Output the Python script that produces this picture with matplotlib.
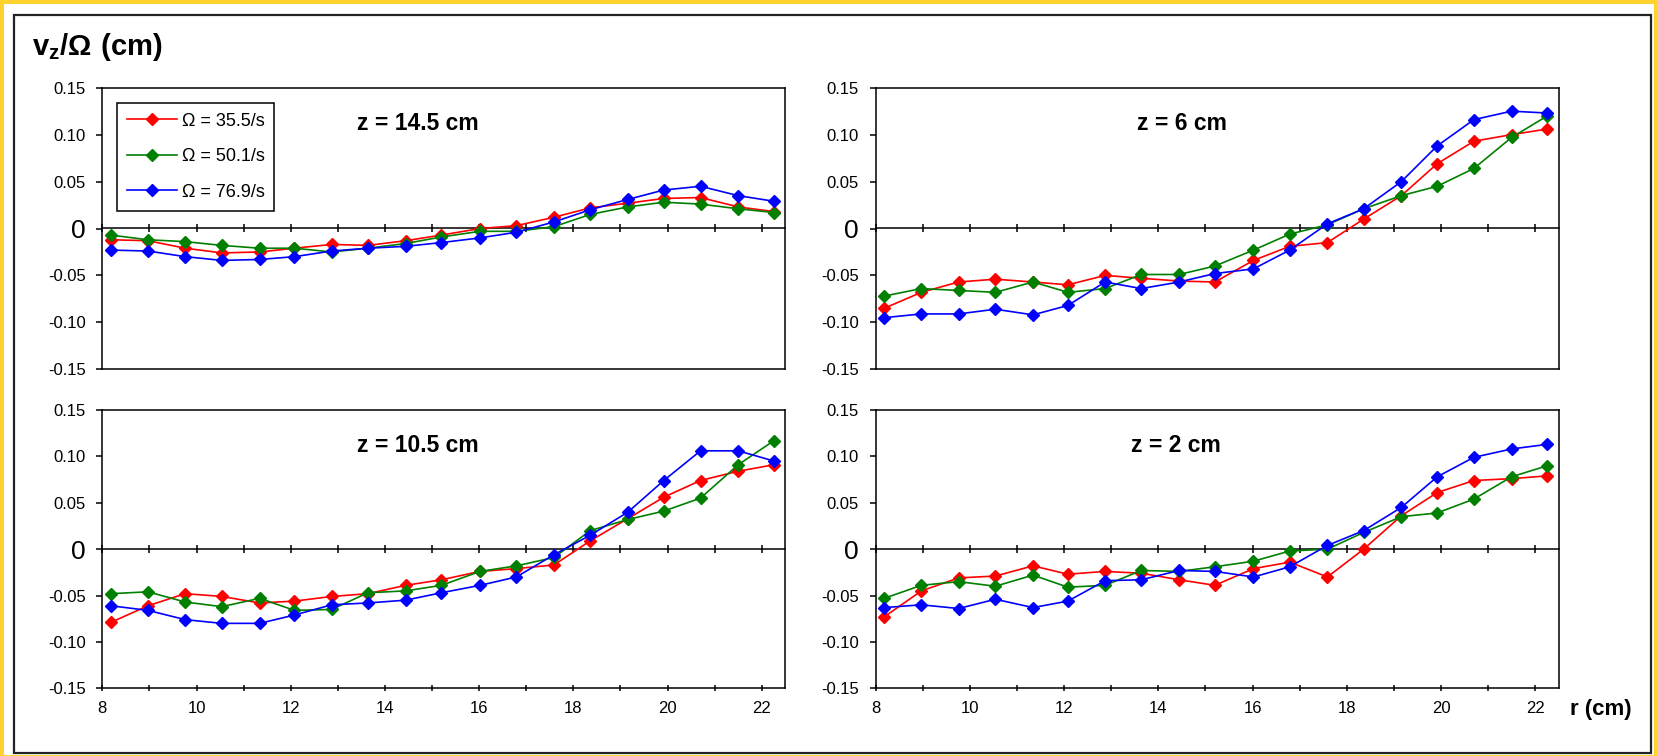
import matplotlib
matplotlib.use("Agg")
import matplotlib.pyplot as plt
from matplotlib.patches import Rectangle

plt.rcParams['font.family'] = ['Liberation Sans', 'DejaVu Sans']
plt.rcParams['mathtext.fontset'] = 'custom'
plt.rcParams['mathtext.rm'] = 'Liberation Sans'
plt.rcParams['mathtext.bf'] = 'Liberation Sans:bold'

# radial positions of the measurements (cm)
r_cm = [8.18, 8.97, 9.76, 10.54, 11.34, 12.08, 12.87, 13.64, 14.44, 15.20,
        16.02, 16.79, 17.59, 18.36, 19.16, 19.92, 20.70, 21.50, 22.26]

series_labels = ['Ω = 35.5/s', 'Ω = 50.1/s', 'Ω = 76.9/s']
series_colors = ['#ff0000', '#008000', '#0000ff']

# z = 14.5 cm
z145_355 = [-0.012, -0.013, -0.021, -0.026, -0.025, -0.021, -0.017, -0.018, -0.013, -0.007,
            0.000, 0.003, 0.012, 0.022, 0.027, 0.032, 0.033, 0.023, 0.018]
z145_501 = [-0.007, -0.012, -0.014, -0.018, -0.021, -0.021, -0.025, -0.021, -0.016, -0.009,
            -0.003, -0.003, 0.002, 0.015, 0.023, 0.028, 0.026, 0.021, 0.017]
z145_769 = [-0.023, -0.024, -0.030, -0.034, -0.033, -0.030, -0.024, -0.021, -0.019, -0.015,
            -0.010, -0.004, 0.007, 0.020, 0.031, 0.041, 0.045, 0.035, 0.029]

# z = 6 cm
z6_355 = [-0.085, -0.068, -0.057, -0.054, -0.057, -0.060, -0.050, -0.053, -0.056, -0.057,
          -0.034, -0.019, -0.015, 0.010, 0.035, 0.069, 0.093, 0.100, 0.106]
z6_501 = [-0.072, -0.064, -0.066, -0.068, -0.057, -0.068, -0.064, -0.049, -0.049, -0.040,
          -0.023, -0.006, 0.004, 0.021, 0.035, 0.045, 0.064, 0.097, 0.120]
z6_769 = [-0.095, -0.091, -0.091, -0.086, -0.092, -0.082, -0.057, -0.064, -0.057, -0.048,
          -0.043, -0.023, 0.005, 0.021, 0.050, 0.088, 0.116, 0.125, 0.123]

# z = 10.5 cm
z105_355 = [-0.079, -0.061, -0.048, -0.051, -0.058, -0.056, -0.051, -0.048, -0.039, -0.033,
            -0.024, -0.021, -0.017, 0.009, 0.033, 0.056, 0.074, 0.084, 0.091]
z105_501 = [-0.048, -0.046, -0.057, -0.062, -0.053, -0.066, -0.065, -0.047, -0.045, -0.039,
            -0.024, -0.018, -0.009, 0.020, 0.032, 0.041, 0.055, 0.091, 0.117]
z105_769 = [-0.061, -0.066, -0.076, -0.080, -0.080, -0.071, -0.060, -0.058, -0.055, -0.047,
            -0.039, -0.030, -0.006, 0.015, 0.040, 0.074, 0.106, 0.106, 0.095]

# z = 2 cm
z2_355 = [-0.073, -0.045, -0.031, -0.029, -0.018, -0.027, -0.024, -0.026, -0.033, -0.039,
          -0.021, -0.014, -0.030, 0.000, 0.036, 0.061, 0.074, 0.076, 0.079]
z2_501 = [-0.053, -0.039, -0.035, -0.040, -0.028, -0.041, -0.039, -0.023, -0.024, -0.019,
          -0.013, -0.002, 0.000, 0.018, 0.035, 0.039, 0.054, 0.078, 0.090]
z2_769 = [-0.063, -0.060, -0.064, -0.054, -0.063, -0.056, -0.034, -0.033, -0.023, -0.024,
          -0.030, -0.019, 0.004, 0.020, 0.045, 0.078, 0.099, 0.108, 0.113]

y_ticks = [0.15, 0.10, 0.05, 0, -0.05, -0.10, -0.15]
y_ticklabels = ['0.15', '0.10', '0.05', '0', '-0.05', '-0.10', '-0.15']
x_major = [8, 10, 12, 14, 16, 18, 20, 22]
x_minor = [9, 11, 13, 15, 17, 19, 21]

W, H = 1658, 756


def fx(px):
    return px / W


def fy(py):
    # py measured from the top of the picture
    return 1 - py / H


fig = plt.figure(figsize=(W / 100, H / 100), dpi=100, facecolor='#ffd22e')
# white card inside the yellow border, then the thin black frame
fig.patches.append(Rectangle((fx(4), fy(755)), fx(1650), (755 - 4) / H, transform=fig.transFigure,
                             facecolor='white', edgecolor='none', zorder=-2))
fig.patches.append(Rectangle((fx(14), fy(753)), fx(1637), (753 - 15) / H, transform=fig.transFigure,
                             facecolor='none', edgecolor='#222222', lw=1.6, zorder=-1))

# panel name, data, text x position, left px, top px, bottom px, bottom row?
panels = [
    ('z = 14.5 cm', [z145_355, z145_501, z145_769], 0.462, 102.3, 87.7, 369.3, False),
    ('z = 6 cm', [z6_355, z6_501, z6_769], 0.448, 875.7, 87.7, 369.3, False),
    ('z = 10.5 cm', [z105_355, z105_501, z105_769], 0.462, 102.3, 410.0, 688.3, True),
    ('z = 2 cm', [z2_355, z2_501, z2_769], 0.44, 875.7, 410.0, 688.3, True),
]

axes = []
for name, data, tx, left, top, bottom, low in panels:
    ax = fig.add_axes([fx(left), fy(bottom), 683 / W, (bottom - top) / H])
    axes.append(ax)
    for vals, lab, col in zip(data, series_labels, series_colors):
        ax.plot(r_cm, vals, color=col, lw=1.2, marker='D', ms=6.3,
                mec=col, mfc=col, label=lab)

    ax.set_xlim(8, 22.5)
    ax.set_ylim(-0.15, 0.15)
    ax.set_yticks(y_ticks)
    ax.set_yticklabels(y_ticklabels)
    ax.tick_params(axis='y', direction='out', length=4.5, width=1.1, labelsize=12, pad=7.5)
    # the zero label is drawn bigger
    ax.yaxis.get_major_ticks()[3].label1.set_fontsize(19)
    for sp in ax.spines.values():
        sp.set_linewidth(1.1)

    ax.set_xticks(x_major)
    ax.set_xticks(x_minor, minor=True)
    if low:
        ax.tick_params(axis='x', which='both', direction='inout', length=5, width=1.1,
                       labelsize=12, pad=6.5)
    else:
        ax.tick_params(axis='x', which='both', bottom=False, labelbottom=False)

    # x axis crossing at zero
    sec = ax.secondary_xaxis(0.5)
    sec.set_xticks(x_major)
    sec.set_xticks(x_minor, minor=True)
    sec.tick_params(which='both', direction='inout', length=5.5, width=1.1,
                    labeltop=False, labelbottom=False)
    for sp in sec.spines.values():
        sp.set_linewidth(1.1)

    ax.text(tx, 0.872, name, transform=ax.transAxes, ha='center', va='center',
            fontsize=16.5, fontweight='bold')

leg = axes[0].legend(loc='upper left', bbox_to_anchor=(0.021, 0.947), borderaxespad=0,
                     fancybox=False, edgecolor='black', framealpha=1, fontsize=13,
                     handlelength=2.8, handletextpad=0.25, labelspacing=1.03, borderpad=0.55)
leg.get_frame().set_linewidth(1.1)

fig.text(fx(31.7), fy(55), r'$\mathbf{v_z/\Omega\ (cm)}$', fontsize=21, ha='left', va='baseline')
fig.text(fx(1570), fy(710), 'r (cm)', fontsize=16, fontweight='bold', ha='left', va='center')

fig.savefig('out.png', dpi=100, facecolor=fig.get_facecolor())
